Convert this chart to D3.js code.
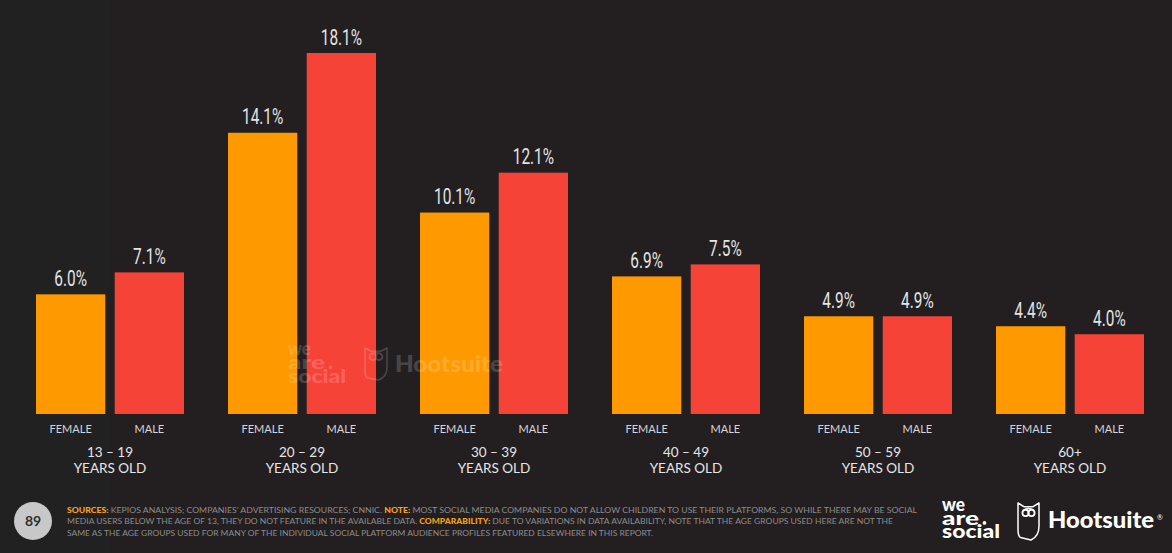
<!DOCTYPE html>
<html>
<head>
<meta charset="utf-8">
<script src="https://cdn.jsdelivr.net/npm/d3@7/dist/d3.min.js"></script>
<style>
  html, body { margin: 0; padding: 0; background: #231f20; }
  svg { display: block; }
</style>
</head>
<body>
<svg id="chart" width="1172" height="553"></svg>
<script>
// Share of social media users by age group and sex
const ageGroups = ["13 – 19", "20 – 29", "30 – 39", "40 – 49", "50 – 59", "60+"];
const sexes = ["FEMALE", "MALE"];
const femaleValues = [6.0, 14.1, 10.1, 6.9, 4.9, 4.4];
const maleValues = [7.1, 18.1, 12.1, 7.5, 4.9, 4.0];
const groupSubLabel = "YEARS OLD";

const footerLines = [
  [["SOURCES:", true], [" KEPIOS ANALYSIS; COMPANIES’ ADVERTISING RESOURCES; CNNIC. ", false], ["NOTE:", true], [" MOST SOCIAL MEDIA COMPANIES DO NOT ALLOW CHILDREN TO USE THEIR PLATFORMS, SO WHILE THERE MAY BE SOCIAL", false]],
  [["MEDIA USERS BELOW THE AGE OF 13, THEY DO NOT FEATURE IN THE AVAILABLE DATA. ", false], ["COMPARABILITY:", true], [" DUE TO VARIATIONS IN DATA AVAILABILITY, NOTE THAT THE AGE GROUPS USED HERE ARE NOT THE", false]],
  [["SAME AS THE AGE GROUPS USED FOR MANY OF THE INDIVIDUAL SOCIAL PLATFORM AUDIENCE PROFILES FEATURED ELSEWHERE IN THIS REPORT.", false]]
];
const footerWidths = [850, 826, 586];
const pageNumber = "89";
const brandWordList = ["we", "are", "social"];
const brandWordWidths = [23, 37, 58];

const colors = { FEMALE: "#fe9900", MALE: "#f64338" };

const svg = d3.select("#chart");
const W = 1172, H = 553;

svg.append("rect").attr("width", W).attr("height", H).attr("fill", "#231f20");
svg.append("rect").attr("width", 110).attr("height", H).attr("fill", "#212121");

const data = ageGroups.map((g, i) => ({
  group: g,
  values: [
    { sex: "FEMALE", value: femaleValues[i] },
    { sex: "MALE", value: maleValues[i] }
  ]
}));

const baseline = 414;
const x0 = d3.scaleBand().domain(ageGroups).range([14, 1166]).paddingInner(0);
const x1 = d3.scaleBand().domain(sexes).range([22, 170]).paddingInner(0.12);
const y = d3.scaleLinear().domain([0, 18.1]).range([baseline, 53]);

// owl shield outline
function owl(g, x, yTop, w, h, color, sw) {
  const p = d3.path();
  const ear = h * 0.1;
  p.moveTo(x, yTop);
  p.lineTo(x + w * 0.28, yTop + ear);
  p.lineTo(x + w * 0.72, yTop + ear);
  p.lineTo(x + w, yTop);
  p.lineTo(x + w, yTop + h * 0.62);
  p.quadraticCurveTo(x + w, yTop + h * 0.9, x + w * 0.62, yTop + h);
  p.lineTo(x + w * 0.12, yTop + h * 0.93);
  p.quadraticCurveTo(x, yTop + h * 0.9, x, yTop + h * 0.7);
  p.closePath();
  g.append("path").attr("d", p.toString()).attr("fill", "none")
    .attr("stroke", color).attr("stroke-width", sw).attr("stroke-linejoin", "round");
  const er = w * 0.15;
  [0.36, 0.64].forEach(f => {
    g.append("circle").attr("cx", x + w * f).attr("cy", yTop + h * 0.27).attr("r", er)
      .attr("fill", "none").attr("stroke", color).attr("stroke-width", sw * 1.2);
  });
  g.append("path")
    .attr("d", `M${x + w * 0.24},${yTop + h * 0.2} Q${x + w * 0.5},${yTop + h * 0.1} ${x + w * 0.76},${yTop + h * 0.2}`)
    .attr("fill", "none").attr("stroke", color).attr("stroke-width", sw);
}

// stacked three-word wordmark
function brandWords(g, x, yBase, size, lead, color) {
  brandWordList.forEach((w, i) => {
    g.append("text").attr("x", x).attr("y", yBase + i * lead)
      .attr("font-family", "Lato, sans-serif").attr("font-weight", 900)
      .attr("font-size", size).attr("fill", color)
      .attr("textLength", brandWordWidths[i]).attr("lengthAdjust", "spacingAndGlyphs")
      .text(w);
  });
  g.append("circle").attr("cx", x + brandWordWidths[1] + 5.5).attr("cy", yBase + lead - 1.6)
    .attr("r", 1.9).attr("fill", color);
}

// bars
const groups = svg.append("g").selectAll("g.group").data(data).join("g")
  .attr("class", "group")
  .attr("transform", d => `translate(${x0(d.group)},0)`);

groups.selectAll("rect.bar").data(d => d.values).join("rect")
  .attr("class", "bar")
  .attr("x", d => x1(d.sex))
  .attr("y", d => y(d.value))
  .attr("width", x1.bandwidth())
  .attr("height", d => baseline - y(d.value))
  .attr("fill", d => colors[d.sex]);

// semi-transparent watermark over the bars
const wm = svg.append("g").attr("opacity", 0.17);
brandWords(wm, 288, 355, 18, 14, "#ffffff");
owl(wm, 365, 348, 22, 32, "#ffffff", 1.6);
wm.append("text").attr("x", 395).attr("y", 372).attr("font-family", "Lato, sans-serif")
  .attr("font-weight", 900).attr("font-size", 23).attr("fill", "#ffffff")
  .attr("textLength", 108).attr("lengthAdjust", "spacingAndGlyphs").text("Hootsuite");

// value labels
groups.selectAll("text.value").data(d => d.values).join("text")
  .attr("class", "value")
  .attr("transform", d => `translate(${x1(d.sex) + x1.bandwidth() / 2},${y(d.value) - 8.5}) scale(0.7,1)`)
  .attr("text-anchor", "middle")
  .attr("font-family", "Roboto, sans-serif")
  .attr("font-weight", 400)
  .attr("font-size", 22)
  .attr("fill", "#e4e4e4")
  .text(d => d.value.toFixed(1) + "%");

// sex labels under bars
groups.selectAll("text.sex").data(d => d.values).join("text")
  .attr("class", "sex")
  .attr("x", d => x1(d.sex) + x1.bandwidth() / 2)
  .attr("y", 433)
  .attr("text-anchor", "middle")
  .attr("font-family", "Lato, sans-serif")
  .attr("font-size", 11)
  .attr("fill", "#d6d6d6")
  .text(d => d.sex);

// age group labels
const gl = groups.append("text")
  .attr("text-anchor", "middle")
  .attr("font-family", "Lato, sans-serif")
  .attr("font-size", 13.5)
  .attr("fill", "#e6e6e6");
gl.append("tspan").attr("x", (x1.range()[0] + x1.range()[1]) / 2).attr("y", 457).text(d => d.group);
gl.append("tspan").attr("x", (x1.range()[0] + x1.range()[1]) / 2).attr("y", 473).text(groupSubLabel);

// footer: page number
svg.append("circle").attr("cx", 33).attr("cy", 521).attr("r", 19).attr("fill", "#c8c8c8");
svg.append("text").attr("x", 33).attr("y", 526).attr("text-anchor", "middle")
  .attr("font-family", "Lato, sans-serif").attr("font-weight", 700).attr("font-size", 14)
  .attr("fill", "#2e2e2e").text(pageNumber);

// footer: notes
footerLines.forEach((parts, i) => {
  const t = svg.append("text")
    .attr("x", 67).attr("y", 513 + i * 11.3)
    .attr("font-family", "Lato, sans-serif").attr("font-size", 8.3)
    .attr("textLength", footerWidths[i]).attr("lengthAdjust", "spacingAndGlyphs");
  parts.forEach(([s, bold]) => {
    t.append("tspan").text(s)
      .attr("fill", bold ? "#f5a11c" : "#8c8c8c")
      .attr("font-weight", bold ? 900 : 400);
  });
});

// footer: brand marks
const logos = svg.append("g");
brandWords(logos, 942, 511, 18, 13.5, "#ffffff");
owl(logos, 1018, 503, 21, 37, "#ffffff", 1.5);
logos.append("text").attr("x", 1048).attr("y", 528).attr("font-family", "Lato, sans-serif")
  .attr("font-weight", 900).attr("font-size", 22.5).attr("fill", "#ffffff")
  .attr("textLength", 106).attr("lengthAdjust", "spacingAndGlyphs").text("Hootsuite");
logos.append("text").attr("x", 1157).attr("y", 520).attr("font-family", "Lato, sans-serif")
  .attr("font-size", 7).attr("fill", "#ffffff").text("®");
</script>
</body>
</html>
